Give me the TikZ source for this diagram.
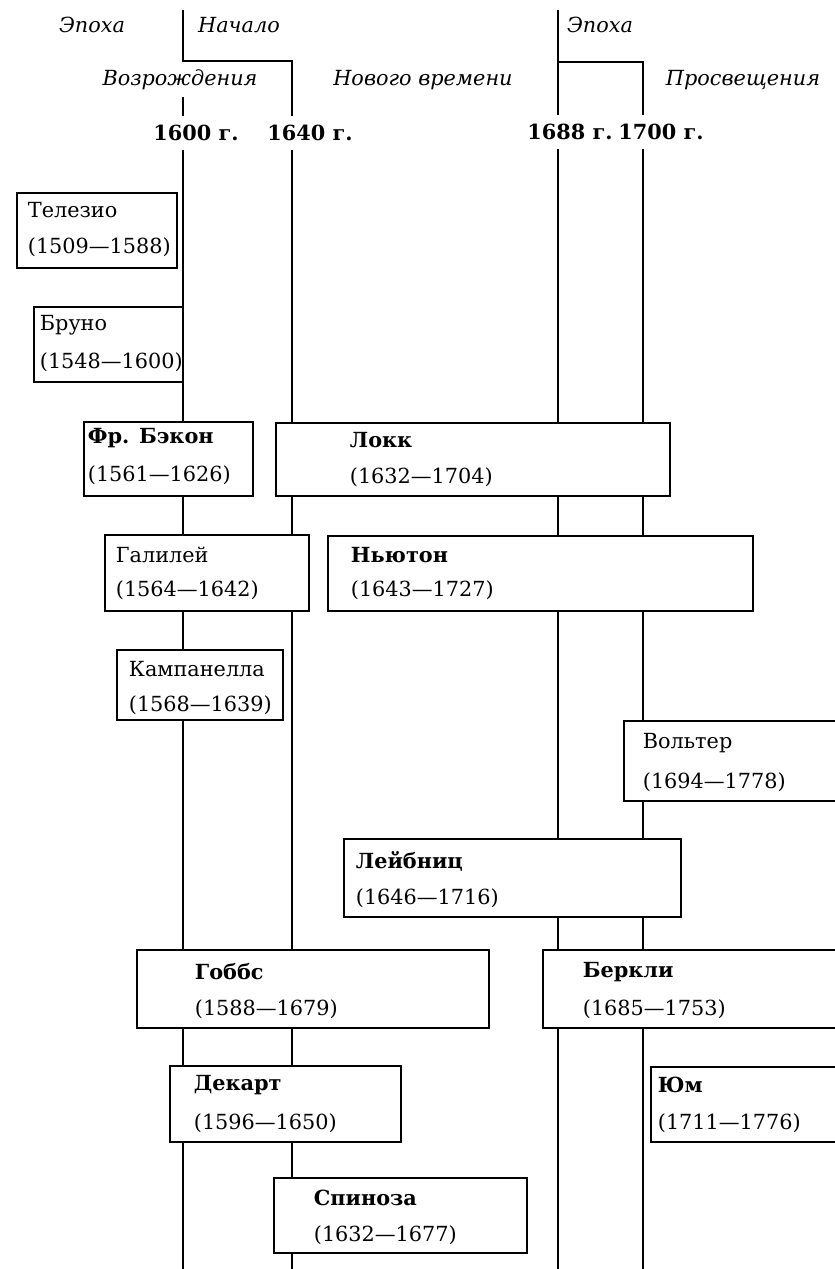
\documentclass[tikz,border=0pt]{standalone}
\usepackage{fontspec}
\setmainfont{DejaVu Serif}
\usepackage{tikz}

\begin{document}
\begin{tikzpicture}[x=0.5pt,y=-0.5pt,line width=0.9pt,
    box/.style={draw,fill=white,line width=0.9pt},
    who/.style={anchor=west,inner sep=0pt,font=\fontsize{10.4}{12}\selectfont},
    bwho/.style={anchor=west,inner sep=0pt,font=\fontsize{10.4}{12}\selectfont\bfseries},
    epoch/.style={inner sep=0pt,font=\fontsize{10.4}{12}\selectfont\itshape},
    year/.style={inner sep=4pt,font=\fontsize{10.4}{12}\selectfont\bfseries}]
                \useasboundingbox (0,0) rectangle (835,1269);
                \clip (0,0) rectangle (835,1269);
                % epochs
                \node[epoch] (ep1) at (92,25) {Эпоха};
                \node[epoch] (nach) at (239,25) {Начало};
                \node[epoch] (vozr) at (180,80) {Возрождения};
                \node[epoch] (nov) at (423,80) {Нового времени};
                \node[epoch] (ep2) at (600,25) {Эпоха};
                \node[epoch] (pros) at (743,80) {Просвещения};
                \node[year] (y1600) at (196,133) {1600 г.};
                \node[year] (y1640) at (310,133) {1640 г.};
                \node[year] (y1688) at (570,132) {1688 г.};
                \node[year] (y1700) at (661,132) {1700 г.};
                \coordinate (a1) at (183,10);
                \coordinate (a2) at (183,61);
                \coordinate (a3) at (292,61);
                \coordinate (r1) at (183,97);
                \coordinate (b1) at (558,10);
                \coordinate (b2) at (558,62);
                \coordinate (b3) at (643,62);
                \coordinate (e1600) at (183,1269);
                \coordinate (e1640) at (292,1269);
                \coordinate (e1688) at (558,1269);
                \coordinate (e1700) at (643,1269);
                \draw (a1) -- (a2) -- (a3) -- (a3 |- y1640.north);
                \draw (r1) -- (r1 |- y1600.north);
                \draw (b1) -- (b1 |- y1688.north);
                \draw (b2) -- (b3) -- (b3 |- y1700.north);
                \draw (e1600 |- y1600.south) -- (e1600);
                \draw (e1640 |- y1640.south) -- (e1640);
                \draw (e1688 |- y1688.south) -- (e1688);
                \draw (e1700 |- y1700.south) -- (e1700);
                % philosophers
                \draw[box] (17,193) rectangle (177,268);
                \node[who] (telesio) at (27,210) {Телезио};
                \node[who] (telesio-d) at (27,247) {(1509—1588)};
                \draw[box] (34,307) rectangle (183,382);
                \node[who] (bruno) at (39,325) {Бруно};
                \node[who] (bruno-d) at (39,362) {(1548—1600)};
                \draw[box] (84,422) rectangle (253,496);
                \node[bwho] (bacon) at (87,438) {Фр. Бэкон};
                \node[who] (bacon-d) at (87,475) {(1561—1626)};
                \draw[box] (276,423) rectangle (670,496);
                \node[bwho] (locke) at (349,440) {Локк};
                \node[who] (locke-d) at (349,477) {(1632—1704)};
                \draw[box] (105,535) rectangle (309,611);
                \node[who] (galileo) at (115,555) {Галилей};
                \node[who] (galileo-d) at (115,590) {(1564—1642)};
                \draw[box] (328,536) rectangle (753,611);
                \node[bwho] (newton) at (350,555) {Ньютон};
                \node[who] (newton-d) at (350,590) {(1643—1727)};
                \draw[box] (117,650) rectangle (283,720);
                \node[who] (campanella) at (128,669) {Кампанелла};
                \node[who] (campanella-d) at (128,705) {(1568—1639)};
                \draw[box] (624,721) rectangle (850,801);
                \node[who] (voltaire) at (642,743) {Вольтер};
                \node[who] (voltaire-d) at (642,782) {(1694—1778)};
                \draw[box] (344,839) rectangle (681,917);
                \node[bwho] (leibniz) at (355,861) {Лейбниц};
                \node[who] (leibniz-d) at (355,898) {(1646—1716)};
                \draw[box] (137,950) rectangle (489,1028);
                \node[bwho] (hobbes) at (194,972) {Гоббс};
                \node[who] (hobbes-d) at (194,1009) {(1588—1679)};
                \draw[box] (543,950) rectangle (850,1028);
                \node[bwho] (berkeley) at (582,972) {Беркли};
                \node[who] (berkeley-d) at (582,1009) {(1685—1753)};
                \draw[box] (170,1066) rectangle (401,1142);
                \node[bwho] (descartes) at (193,1085) {Декарт};
                \node[who] (descartes-d) at (193,1123) {(1596—1650)};
                \draw[box] (651,1067) rectangle (850,1142);
                \node[bwho] (hume) at (657,1085) {Юм};
                \node[who] (hume-d) at (657,1123) {(1711—1776)};
                \draw[box] (274,1178) rectangle (527,1253);
                \node[bwho] (spinoza) at (313,1198) {Спиноза};
                \node[who] (spinoza-d) at (313,1235) {(1632—1677)};
\end{tikzpicture}
\end{document}
